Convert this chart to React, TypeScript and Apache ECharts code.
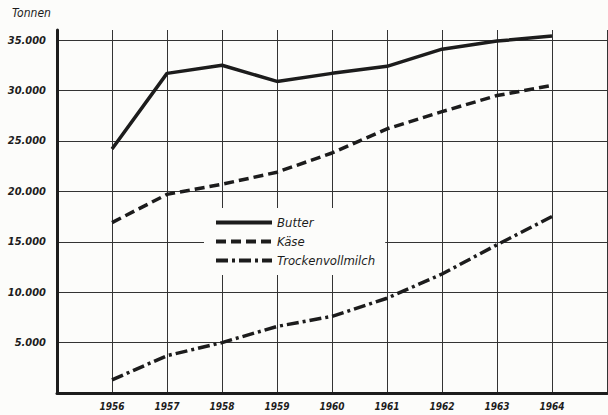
import React, { useEffect, useRef } from "react";
import * as echarts from "echarts";

const years = [1956, 1957, 1958, 1959, 1960, 1961, 1962, 1963, 1964];
const butter = [24200, 31700, 32500, 30900, 31700, 32400, 34100, 34900, 35400];
const kaese = [16900, 19700, 20700, 21900, 23800, 26200, 27900, 29500, 30500];
const trocken = [1300, 3700, 5000, 6600, 7600, 9400, 11800, 14700, 17500];
const seriesNames = ["Butter", "Käse", "Trockenvollmilch"];
const yTitle = "Tonnen";

const INK = "#1c1c1c";
const FONT = "DejaVu Sans Condensed";

function fmt(v: number): string {
  if (v === 0) return "";
  const t = Math.floor(v / 1000);
  const r = v % 1000;
  return t + "." + String(r).padStart(3, "0");
}

export default function App() {
  const ref = useRef<HTMLDivElement>(null);
  useEffect(() => {
    if (!ref.current) return;
    const chart = echarts.init(ref.current, undefined, { renderer: "svg" });
    const mk = (vals: number[]) => years.map((y, i) => [y, vals[i]]);
    const lineTypes: any[] = ["solid", [10, 5], [12, 4, 3, 4]];
    const datas = [butter, kaese, trocken];
    chart.setOption({
      animation: false,
      backgroundColor: "#fcfcfa",
      textStyle: { fontFamily: FONT, fontStyle: "italic", fontWeight: "bold", color: INK },
      grid: { left: 57, right: 1, top: 30, bottom: 22 },
      graphic: [
        {
          type: "text",
          left: 12,
          top: 7,
          style: {
            text: yTitle,
            fontFamily: FONT,
            fontStyle: "italic",
            fontWeight: "normal",
            fontSize: 12,
            fill: INK,
          },
        },
      ],
      legend: {
        orient: "vertical",
        left: 204,
        top: 208,
        data: seriesNames,
        itemWidth: 56,
        itemHeight: 12,
        itemGap: 6,
        padding: [8, 10, 8, 10],
        backgroundColor: "#fcfcfa",
        itemStyle: { opacity: 0 },
        lineStyle: { width: 4 },
        textStyle: {
          fontFamily: FONT,
          fontStyle: "italic",
          fontWeight: "normal",
          fontSize: 13,
          color: INK,
        },
      },
      xAxis: {
        type: "value",
        min: 1955,
        max: 1965,
        interval: 1,
        axisLine: { show: true, lineStyle: { color: INK, width: 3 } },
        axisTick: { show: false },
        axisLabel: {
          showMinLabel: false,
          showMaxLabel: false,
          margin: 8,
          fontSize: 10,
          color: INK,
          fontFamily: FONT,
          fontStyle: "italic",
          fontWeight: "bold",
          formatter: (v: number) => String(v),
        },
        splitLine: {
          show: true,
          showMinLine: false,
          showMaxLine: true,
          lineStyle: { color: "#333", width: 1 },
        },
      },
      yAxis: {
        type: "value",
        min: 0,
        max: 36000,
        interval: 5000,
        axisLine: { show: true, lineStyle: { color: INK, width: 3 } },
        axisTick: { show: false },
        axisLabel: {
          showMaxLabel: false,
          margin: 11,
          fontSize: 11,
          color: INK,
          fontFamily: FONT,
          fontStyle: "italic",
          fontWeight: "bold",
          formatter: (v: number) => (v > 35000 ? "" : fmt(v)),
        },
        splitLine: {
          show: true,
          showMinLine: false,
          showMaxLine: false,
          lineStyle: { color: "#333", width: 1 },
        },
      },
      series: seriesNames.map((name, i) => ({
        name,
        type: "line",
        data: mk(datas[i]),
        symbol: "none",
        lineStyle: { color: INK, width: 3.5, type: lineTypes[i] },
        itemStyle: { color: INK },
      })),
    });
    return () => chart.dispose();
  }, []);
  return (
    <div
      ref={ref}
      style={{ position: "fixed", left: 0, top: 0, width: 608, height: 415 }}
    />
  );
}
